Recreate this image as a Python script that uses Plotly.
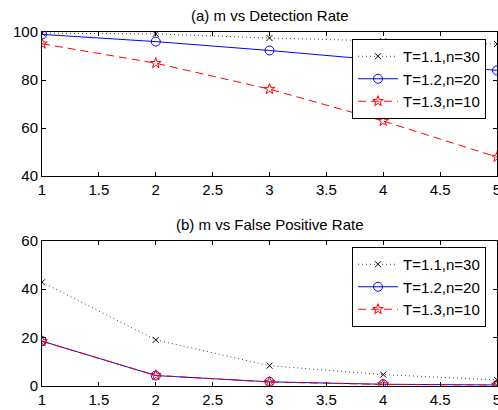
import plotly.graph_objects as go

m_values = [1, 2, 3, 4, 5]
series_names = ["T=1.1,n=30", "T=1.2,n=20", "T=1.3,n=10"]

detection_t11 = [99.5, 99.2, 97.5, 96.2, 95.0]
detection_t12 = [99.0, 96.0, 92.3, 88.0, 84.0]
detection_t13 = [95.1, 87.0, 76.2, 62.9, 47.9]

fpr_t11 = [42.9, 19.0, 8.3, 4.6, 2.4]
fpr_t12 = [18.5, 4.2, 1.6, 0.6, 0.3]
fpr_t13 = [18.4, 4.3, 1.5, 0.5, 0.2]

x_ticks = [1, 1.5, 2, 2.5, 3, 3.5, 4, 4.5, 5]
x_tick_labels = ["1", "1.5", "2", "2.5", "3", "3.5", "4", "4.5", "5"]
top_y_ticks = [40, 60, 80, 100]
bottom_y_ticks = [0, 20, 40, 60]

W, H = 498, 410
FONT = "Liberation Sans, Arial, Helvetica, sans-serif"
FS = 15

styles = [
    dict(line=dict(color="#444444", width=1, dash="1px,3px"),
         marker=dict(symbol="x-thin-open", size=6, color="black", line=dict(color="black", width=1))),
    dict(line=dict(color="blue", width=1, dash="solid"),
         marker=dict(symbol="circle-open", size=9, color="blue", line=dict(color="blue", width=1))),
    dict(line=dict(color="red", width=1, dash="8px,5px"),
         marker=dict(symbol="star-open", size=8, color="red", line=dict(color="red", width=1))),
]

fig = go.Figure()

top_data = [detection_t11, detection_t12, detection_t13]
bot_data = [fpr_t11, fpr_t12, fpr_t13]

for name, ys, st in zip(series_names, top_data, styles):
    fig.add_trace(go.Scatter(x=m_values, y=ys, name=name, mode="lines+markers",
                             line=st["line"], marker=st["marker"],
                             xaxis="x", yaxis="y", legend="legend"))
for name, ys, st in zip(series_names, bot_data, styles):
    fig.add_trace(go.Scatter(x=m_values, y=ys, name=name, mode="lines+markers",
                             line=st["line"], marker=st["marker"],
                             xaxis="x2", yaxis="y2", legend="legend2"))

xdom = [42 / W, 497 / W]
top_dom = [1 - 176 / H, 1 - 32 / H]
bot_dom = [1 - 385.7 / H, 1 - 241 / H]

axis_common = dict(showline=True, linecolor="black", linewidth=1, mirror="allticks",
                   ticks="inside", ticklen=4, tickcolor="black", showgrid=False,
                   zeroline=False, automargin=False, ticklabeloverflow="allow",
                   tickfont=dict(family=FONT, size=FS, color="black"))

legend_common = dict(xanchor="left", yanchor="top",
                     bgcolor="white", bordercolor="black", borderwidth=1,
                     font=dict(family=FONT, size=FS, color="black"), itemwidth=40,
                     tracegroupgap=0)

fig.update_layout(
    width=W, height=H,
    margin=dict(l=0, r=0, t=0, b=0, autoexpand=False),
    paper_bgcolor="white", plot_bgcolor="white",
    font=dict(family=FONT, size=FS, color="black"),
    xaxis=dict(domain=xdom, range=[1, 5], tickvals=x_ticks, ticktext=x_tick_labels,
               anchor="y", **axis_common),
    yaxis=dict(domain=top_dom, range=[40, 100], tickvals=top_y_ticks, anchor="x", **axis_common),
    xaxis2=dict(domain=xdom, range=[1, 5], tickvals=x_ticks, ticktext=x_tick_labels,
                anchor="y2", **axis_common),
    yaxis2=dict(domain=bot_dom, range=[0, 60], tickvals=bottom_y_ticks, anchor="x2", **axis_common),
    legend=dict(x=352 / W, y=1 - 39 / H, **legend_common),
    legend2=dict(x=352 / W, y=1 - 247 / H, **legend_common),
    annotations=[
        dict(text="(a) m vs Detection Rate", x=(xdom[0] + xdom[1]) / 2, y=1 - 15 / H,
             xref="paper", yref="paper", showarrow=False, yanchor="middle",
             font=dict(family=FONT, size=FS, color="black")),
        dict(text="(b) m vs False Positive Rate", x=(xdom[0] + xdom[1]) / 2, y=1 - 224 / H,
             xref="paper", yref="paper", showarrow=False, yanchor="middle",
             font=dict(family=FONT, size=FS, color="black")),
    ],
)

fig.write_html("out.html", config={"displayModeBar": False},
               post_script="document.body.style.margin='0';document.body.style.overflow='hidden';")
